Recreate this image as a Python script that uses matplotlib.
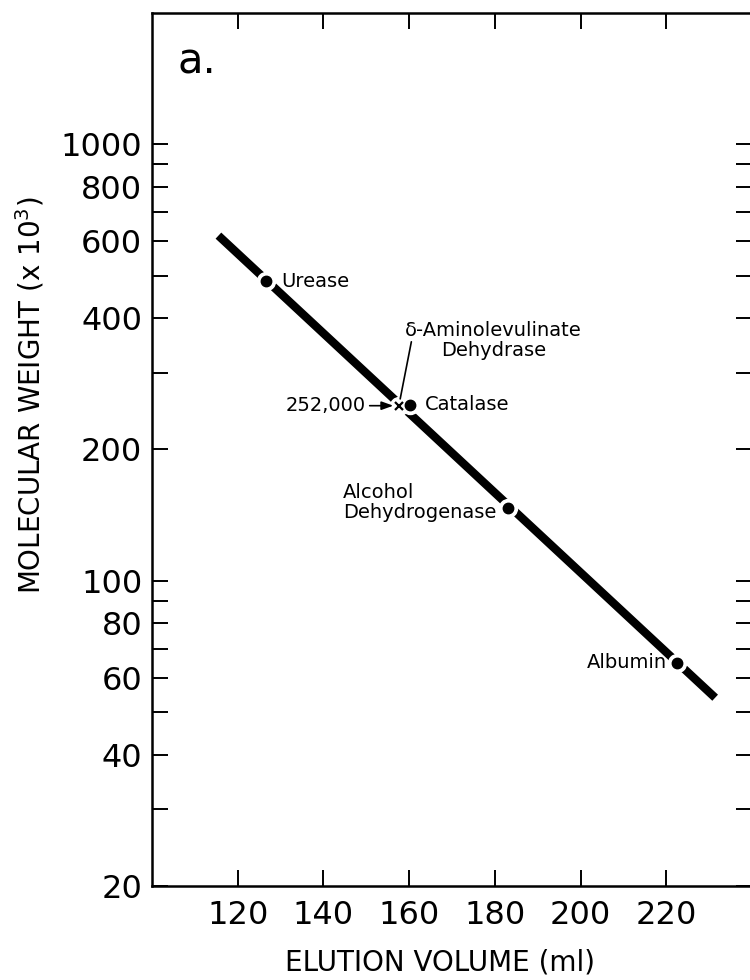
import numpy as np
import matplotlib.pyplot as plt

# calibration line (elution volume, MW x 10^3)
line_x = [115.5, 231.4]
line_mw = [618, 54]

# standard proteins
prot_names = ['Urease', 'Catalase', 'Alcohol\nDehydrogenase', 'Albumin']
prot_x = [126.7, 160.2, 183.0, 222.5]
prot_mw = [486, 253, 147, 65]

# unknown enzyme
ala_x = 157.6
ala_mw = 252

y_ticks = [20, 30, 40, 50, 60, 70, 80, 90, 100, 200, 300, 400, 500, 600, 700, 800, 900, 1000]
y_labels = ['20', '', '40', '', '60', '', '80', '', '100', '200', '', '400', '', '600', '', '800', '', '1000']
x_ticks = [120, 140, 160, 180, 200, 220]

fig = plt.figure(figsize=(7.5, 9.8), dpi=100)
# right spine sits just outside the picture, as in the scan
ax = fig.add_axes([152 / 750, 1 - 886 / 980, 600 / 750, 873 / 980])

ax.plot(line_x, line_mw, color='black', lw=6, solid_capstyle='butt', zorder=2)

# white gaps around the points, then the points
ax.plot(prot_x + [ala_x], prot_mw + [ala_mw], 'o', color='white', markersize=13, zorder=3)
ax.plot(prot_x, prot_mw, 'o', color='black', markersize=7.5, zorder=4)
ax.plot(ala_x, ala_mw, 'x', color='black', markersize=6, mew=1.6, zorder=5)

ax.set_yscale('log')
ax.set_xlim(100, 240)
ax.set_ylim(20, 2000)
ax.set_yticks(y_ticks, labels=y_labels)
ax.yaxis.set_minor_locator(plt.NullLocator())
ax.set_xticks(x_ticks)
ax.tick_params(axis='both', which='both', direction='in', top=True, right=True,
               length=11.5, width=1.4, labelsize=23, pad=7)
ax.tick_params(axis='x', pad=10)
for sp in ax.spines.values():
    sp.set_linewidth(1.8)

ax.set_xlabel('ELUTION VOLUME (ml)', fontsize=20, labelpad=12)
ax.xaxis.set_label_coords((440 - 152) / 600, -0.072)
fig.text(30 / 750, 1 - 395 / 980, 'MOLECULAR WEIGHT (x 10$^3$)', rotation=90,
         fontsize=20, ha='center', va='center')

fig.text(197 / 750, 1 - 62 / 980, 'a.', fontsize=30, ha='center', va='center')

# labels for standards
fs = 14
ax.annotate(prot_names[0], (prot_x[0], prot_mw[0]), xytext=(11, 0), textcoords='offset points',
            fontsize=fs, ha='left', va='center')
ax.annotate(prot_names[1], (prot_x[1], prot_mw[1]), xytext=(11, 0), textcoords='offset points',
            fontsize=fs, ha='left', va='center')
ax.annotate(prot_names[2], (prot_x[2], prot_mw[2]), xytext=(-8, 4), textcoords='offset points',
            fontsize=fs, ha='right', va='center', multialignment='left', linespacing=1.1)
ax.annotate(prot_names[3], (prot_x[3], prot_mw[3]), xytext=(-7, 0), textcoords='offset points',
            fontsize=fs, ha='right', va='center')

# unknown: arrow with value, leader line to name
ax.annotate('252,000', (ala_x, ala_mw), xytext=(-24, 0), textcoords='offset points',
            fontsize=fs, ha='right', va='center',
            arrowprops=dict(arrowstyle='-|>,head_length=0.5,head_width=0.18', color='black',
                            lw=1.2, shrinkA=1, shrinkB=4))
ax.annotate('', (ala_x, ala_mw), xytext=(9, 46), textcoords='offset points',
            arrowprops=dict(arrowstyle='-', color='black', lw=1.2, shrinkA=0, shrinkB=5))
ax.annotate('\u03b4-Aminolevulinate\nDehydrase', (ala_x, ala_mw), xytext=(68, 47),
            textcoords='offset points', fontsize=fs, ha='center', va='center', linespacing=1.1)

fig.savefig('out.png', dpi=100)
